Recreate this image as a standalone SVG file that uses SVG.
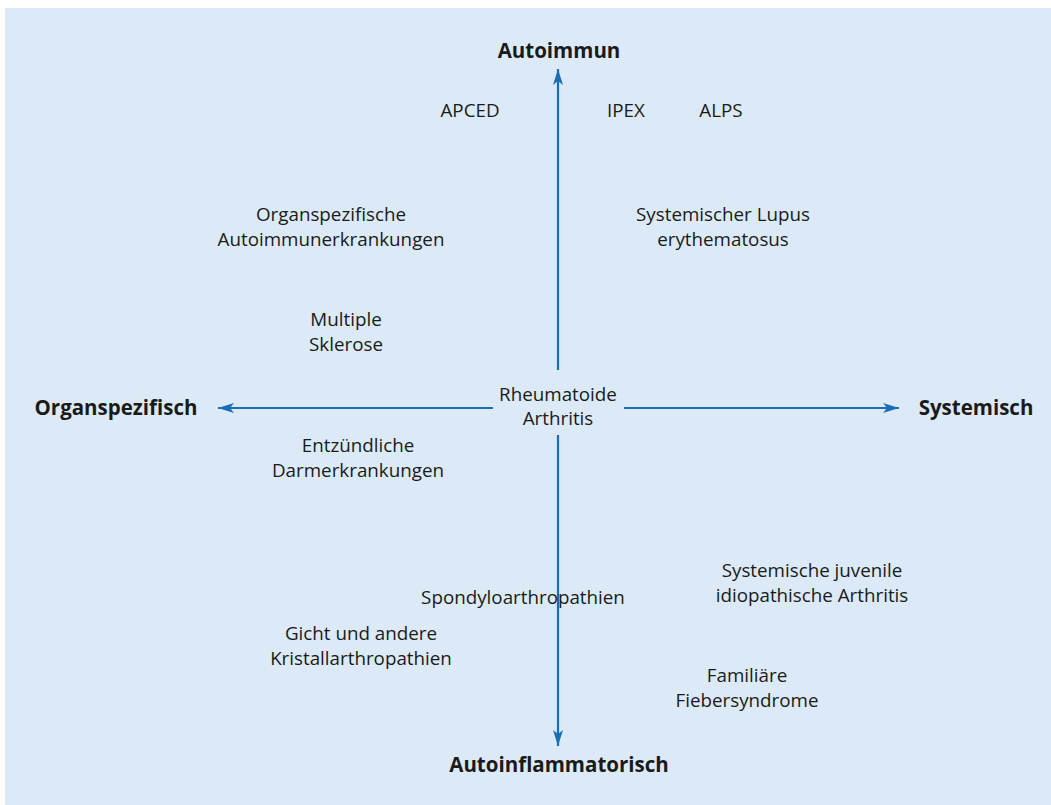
<svg xmlns="http://www.w3.org/2000/svg" width="1051" height="805" viewBox="0 0 1051 805">
<style>
text{font-family:"Open Sans","Noto Sans","Liberation Sans",sans-serif;font-size:18.8px;fill:#1a1a1a;text-anchor:middle}
.b{font-weight:bold;font-size:20.5px}
.ax{stroke:#1a6eb5;stroke-width:2.2;fill:none}
</style>
<defs>
<marker id="ah" viewBox="0 0 16 10" refX="16" refY="5" markerWidth="16" markerHeight="10" markerUnits="userSpaceOnUse" orient="auto">
<path d="M0,0 L16,5 L0,10 L4,5 Z" fill="#1a6eb5"/>
</marker>
</defs>
<rect x="5" y="8" width="1046" height="797" fill="#dceaf7"/>
<g id="connectors">
<line class="ax" x1="558" y1="370" x2="558" y2="69" marker-end="url(#ah)"/>
<line class="ax" x1="558" y1="435" x2="558" y2="746" marker-end="url(#ah)"/>
<line class="ax" x1="493" y1="408" x2="218" y2="408" marker-end="url(#ah)"/>
<line class="ax" x1="624" y1="408" x2="899" y2="408" marker-end="url(#ah)"/>
</g>
<g id="n-autoimmun"><text class="b" x="559" y="58">Autoimmun</text></g>
<g id="n-autoinflammatorisch"><text class="b" x="559" y="772">Autoinflammatorisch</text></g>
<g id="n-organspezifisch"><text class="b" x="116" y="415">Organspezifisch</text></g>
<g id="n-systemisch"><text class="b" x="976" y="415">Systemisch</text></g>
<g id="n-apced"><text x="470" y="117">APCED</text></g>
<g id="n-ipex"><text x="626" y="117">IPEX</text></g>
<g id="n-alps"><text x="721" y="117">ALPS</text></g>
<g id="n-organ-ai"><text x="331" y="221">Organspezifische</text><text x="331" y="246">Autoimmunerkrankungen</text></g>
<g id="n-sle"><text x="723" y="221">Systemischer Lupus</text><text x="723" y="246">erythematosus</text></g>
<g id="n-ms"><text x="346" y="326">Multiple</text><text x="346" y="351">Sklerose</text></g>
<g id="n-ra"><text x="558" y="401">Rheumatoide</text><text x="558" y="425">Arthritis</text></g>
<g id="n-ced"><text x="358" y="452">Entzündliche</text><text x="358" y="477">Darmerkrankungen</text></g>
<g id="n-sjia"><text x="812" y="577">Systemische juvenile</text><text x="812" y="602">idiopathische Arthritis</text></g>
<g id="n-spa"><text x="523" y="604">Spondyloarthropathien</text></g>
<g id="n-gicht"><text x="361" y="640">Gicht und andere</text><text x="361" y="665">Kristallarthropathien</text></g>
<g id="n-fmf"><text x="747" y="682">Familiäre</text><text x="747" y="707">Fiebersyndrome</text></g>
</svg>
